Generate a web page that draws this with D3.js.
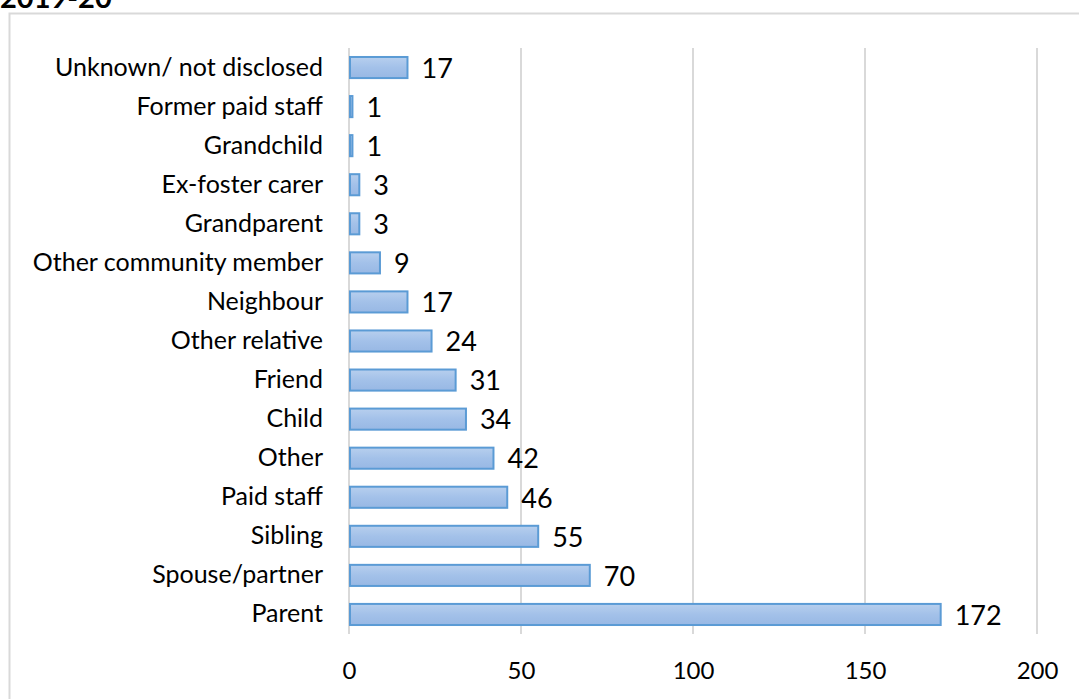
<!DOCTYPE html>
<html><head><meta charset="utf-8">
<script src="https://cdn.jsdelivr.net/npm/d3@7"></script>
<style>body{margin:0;background:#fff;}svg{display:block;}</style>
</head><body>
<script>
const categories = ["Unknown/ not disclosed","Former paid staff","Grandchild","Ex-foster carer","Grandparent","Other community member","Neighbour","Other relative","Friend","Child","Other","Paid staff","Sibling","Spouse/partner","Parent"];
const values = [17,1,1,3,3,9,17,24,31,34,42,46,55,70,172];
const ticks = [0,50,100,150,200];
const title = "2019-20";

const W=1079,H=699;
const svg=d3.select("body").append("svg").attr("width",W).attr("height",H);
const font="Lato, 'Open Sans', sans-serif";
const defs=svg.append("defs");
const g=defs.append("linearGradient").attr("id","bg").attr("x1",0).attr("x2",0).attr("y1",0).attr("y2",1);
g.append("stop").attr("offset","0%").attr("stop-color","#b7cfee");
g.append("stop").attr("offset","50%").attr("stop-color","#a3c1e9");
g.append("stop").attr("offset","100%").attr("stop-color","#98b8e4");

svg.append("rect").attr("x",9.5).attr("y",13.5).attr("width",1200).attr("height",800)
  .attr("fill","none").attr("stroke","#d9d9d9").attr("stroke-width",2);
svg.append("text").attr("x",0).attr("y",8).text(title)
  .attr("font-family",font).attr("font-weight","bold").attr("font-size",29).attr("fill","#000");

const x=d3.scaleLinear().domain([0,200]).range([349,1037]);
const y=d3.scaleBand().domain(categories).range([48,634]).paddingInner(0.46).paddingOuter(0.23);

svg.append("g").selectAll("line").data(ticks).join("line")
  .attr("x1",d=>x(d)).attr("x2",d=>x(d)).attr("y1",48).attr("y2",634)
  .attr("stroke","#d9d9d9").attr("stroke-width",2);

const xa=svg.append("g").attr("transform","translate(0,634)")
  .call(d3.axisBottom(x).tickValues(ticks).tickSize(0).tickPadding(28));
xa.select(".domain").remove();
xa.selectAll("text").attr("font-family",font).attr("font-size",24).attr("fill","#000");

const ya=svg.append("g").attr("transform","translate(349,0)")
  .call(d3.axisLeft(y).tickSize(0).tickPadding(26));
ya.select(".domain").remove();
ya.selectAll("text").attr("font-family",font).attr("font-size",25).attr("fill","#000");

svg.append("g").selectAll("rect").data(values).join("rect")
  .attr("x",x(0)+1).attr("y",(d,i)=>y(categories[i]))
  .attr("width",d=>Math.max(0,x(d)-x(0)-1)).attr("height",y.bandwidth())
  .attr("fill","url(#bg)").attr("stroke","#5b9bd5").attr("stroke-width",2);

svg.append("g").selectAll("text").data(values).join("text")
  .attr("x",d=>x(d)+14).attr("y",(d,i)=>y(categories[i])+y.bandwidth()/2)
  .attr("dy","0.38em").text(d=>d)
  .attr("font-family",font).attr("font-size",27).attr("fill","#000");
</script>
</body></html>
